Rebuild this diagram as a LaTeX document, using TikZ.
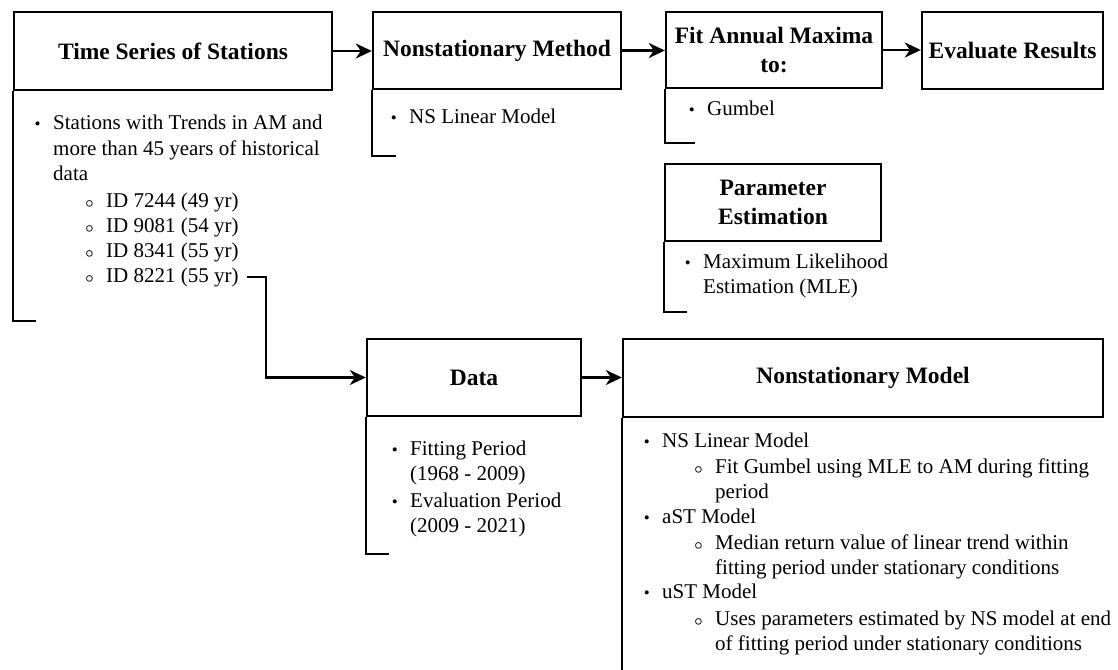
\documentclass[tikz,border=0pt]{standalone}
\usepackage{fontspec}
\setmainfont{Liberation Serif}
\usetikzlibrary{arrows.meta}
\newcommand{\fbul}{\makebox[0pt][r]{{\fontsize{17}{17}\selectfont\textbullet}\hspace{12.5pt}}}
\newcommand{\hbul}{\makebox[0pt][r]{{\fontsize{15}{15}\selectfont\boldmath$\circ$}\hspace{12.5pt}}}
\begin{document}
\begin{tikzpicture}[x=1pt,y=-1pt,
  boxnode/.style={draw, line width=2.4pt, inner sep=0pt, align=center,
    font=\fontsize{23.5}{29.5}\selectfont\bfseries},
  itm/.style={anchor=base west, inner sep=0pt, align=left,
    font=\fontsize{21}{25.4}\selectfont},
  brk/.style={line width=2.4pt, line join=miter},
  arr/.style={line width=2.4pt, line join=miter,
    -{Stealth[length=16pt,width=15pt,inset=5pt]}}]
\useasboundingbox (0,0) rectangle (1118,669);

% boxes
\node[boxnode, minimum width=318pt, minimum height=78pt] (ts) at (173,51) {Time Series of Stations};
\node[boxnode, minimum width=248pt, minimum height=77pt] (meth) at (497,50.5) {Nonstationary Method};
\node[boxnode, minimum width=216pt, minimum height=76pt] (fit) at (774,50) {Fit Annual Maxima\\to:};
\node[boxnode, minimum width=181pt, minimum height=77pt] (eval) at (1012.5,50.5) {Evaluate Results};
\node[boxnode, minimum width=216pt, minimum height=77pt] (param) at (773,202.5) {Parameter\\Estimation};
\node[boxnode, minimum width=214pt, minimum height=77pt] (data) at (474,377.5) {Data};
\node[boxnode, minimum width=480pt, minimum height=78pt] (nsm) at (863,378) {Nonstationary Model};

% brackets
\draw[brk] (ts.south west) -- (ts.south west |- 0,321) -- (36,321);
\draw[brk] (meth.south west) -- (meth.south west |- 0,156) -- (396,156);
\draw[brk] (fit.south west) -- (fit.south west |- 0,143) -- (695,143);
\draw[brk] (param.south west) -- (param.south west |- 0,312) -- (687,312);
\draw[brk] (data.south west) -- (data.south west |- 0,554) -- (389,554);
\draw[brk] (nsm.south west) -- (nsm.south west |- 0,672);

% texts (base anchor = baseline of last line)
\node[itm] (t1) at (53,180.5) {\fbul Stations with Trends in AM and\\more than 45 years of historical\\data};
\node[itm] (t2) at (106,207) {\hbul ID 7244 (49 yr)};
\node[itm] (t3) at (106,232) {\hbul ID 9081 (54 yr)};
\node[itm] (t4) at (106,257) {\hbul ID 8341 (55 yr)};
\node[itm] (t5) at (106,282) {\hbul ID 8221 (55 yr)};

\node[itm] (m1) at (409,123) {\fbul NS Linear Model};
\node[itm] (f1) at (707,115) {\fbul Gumbel};
\node[itm] (p1) at (703,293.4) {\fbul Maximum Likelihood\\Estimation (MLE)};

\node[itm] (d1) at (410,480.4) {\fbul Fitting Period\\(1968 - 2009)};
\node[itm] (d2) at (410,532.4) {\fbul Evaluation Period\\(2009 - 2021)};

\node[itm] (n1) at (662,447) {\fbul NS Linear Model};
\node[itm] (n2) at (715,498.4) {\hbul Fit Gumbel using MLE to AM during fitting\\period};
\node[itm] (n3) at (662,523) {\fbul aST Model};
\node[itm] (n4) at (715,574.4) {\hbul Median return value of linear trend within\\fitting period under stationary conditions};
\node[itm] (n5) at (662,598) {\fbul uST Model};
\node[itm] (n6) at (715,650.4) {\hbul Uses parameters estimated by NS model at end\\of fitting period under stationary conditions};

% connectors
\draw[arr] (ts.east) -- (ts.east -| meth.west);
\draw[arr] (meth.east) -- (meth.east -| fit.west);
\draw[arr] (fit.east) -- (fit.east -| eval.west);
\draw[arr] (data.east) -- (data.east -| nsm.west);
\coordinate (c1) at ([xshift=8pt]t5.east);
\draw[arr] (c1) -| (266,377.5) -- (data.west);
\end{tikzpicture}
\end{document}
